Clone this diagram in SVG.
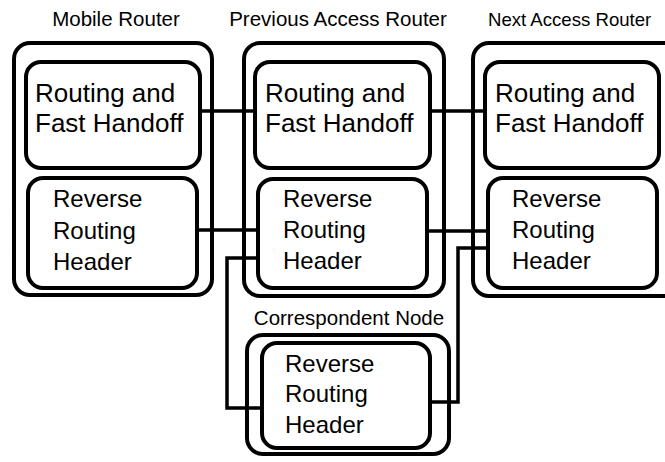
<svg xmlns="http://www.w3.org/2000/svg" width="665" height="462" viewBox="0 0 665 462">
<style>
.outer{fill:none;stroke:#000;stroke-width:4}
.inner{fill:#fff;stroke:#000;stroke-width:4}
.conn{fill:none;stroke:#000;stroke-width:3.5}
.lbl{font-family:"Liberation Sans",Arial,sans-serif;font-size:20.5px;fill:#000;text-anchor:middle}
.big{font-family:"Liberation Sans",Arial,sans-serif;font-size:26px;fill:#000}
.mid{font-family:"Liberation Sans",Arial,sans-serif;font-size:24px;fill:#000}
</style>
<rect width="665" height="462" fill="#fff"/>
<g id="connectors">
<path class="conn" d="M200,111 H255"/>
<path class="conn" d="M430,111 H485"/>
<path class="conn" d="M197,230 H258"/>
<path class="conn" d="M427,231 H488"/>
<path class="conn" d="M258,258 H227 V408 H262"/>
<path class="conn" d="M488,248 H458 V402 H430"/>
</g>
<g id="mobile-router">
<text class="lbl" x="116" y="26">Mobile Router</text>
<rect class="outer" x="14" y="43" width="198" height="252" rx="16"/>
</g>
<g id="previous-access-router">
<text class="lbl" x="338" y="26">Previous Access Router</text>
<rect class="outer" x="244" y="43" width="200" height="253" rx="16"/>
</g>
<g id="next-access-router">
<text class="lbl" x="488" y="26" style="text-anchor:start;font-size:18.6px">Next Access Router</text>
<rect class="outer" x="473" y="43" width="220" height="253" rx="16"/>
</g>
<g id="correspondent-node">
<text class="lbl" x="349" y="325">Correspondent Node</text>
<rect class="outer" x="247" y="335" width="202" height="119" rx="16"/>
</g>
<g id="mr-routing">
<rect class="inner" x="26" y="62" width="174" height="106" rx="15"/>
<text class="big" x="35" y="102">Routing and</text>
<text class="big" x="35" y="132">Fast Handoff</text>
</g>
<g id="mr-rrh">
<rect class="inner" x="28" y="178" width="169" height="110" rx="15"/>
<text class="mid" x="53" y="207">Reverse</text>
<text class="mid" x="53" y="239">Routing</text>
<text class="mid" x="53" y="270">Header</text>
</g>
<g id="par-routing">
<rect class="inner" x="255" y="62" width="175" height="106" rx="15"/>
<text class="big" x="265" y="102">Routing and</text>
<text class="big" x="265" y="132">Fast Handoff</text>
</g>
<g id="par-rrh">
<rect class="inner" x="258" y="179" width="169" height="109" rx="15"/>
<text class="mid" x="283" y="207">Reverse</text>
<text class="mid" x="283" y="238">Routing</text>
<text class="mid" x="283" y="269">Header</text>
</g>
<g id="nar-routing">
<rect class="inner" x="485" y="62" width="174" height="106" rx="15"/>
<text class="big" x="495" y="102">Routing and</text>
<text class="big" x="495" y="132">Fast Handoff</text>
</g>
<g id="nar-rrh">
<rect class="inner" x="488" y="178" width="169" height="110" rx="15"/>
<text class="mid" x="512" y="207">Reverse</text>
<text class="mid" x="512" y="238">Routing</text>
<text class="mid" x="512" y="269">Header</text>
</g>
<g id="cn-rrh">
<rect class="inner" x="262" y="343" width="168" height="105" rx="15"/>
<text class="mid" x="285" y="372">Reverse</text>
<text class="mid" x="285" y="402">Routing</text>
<text class="mid" x="285" y="433">Header</text>
</g>
</svg>
